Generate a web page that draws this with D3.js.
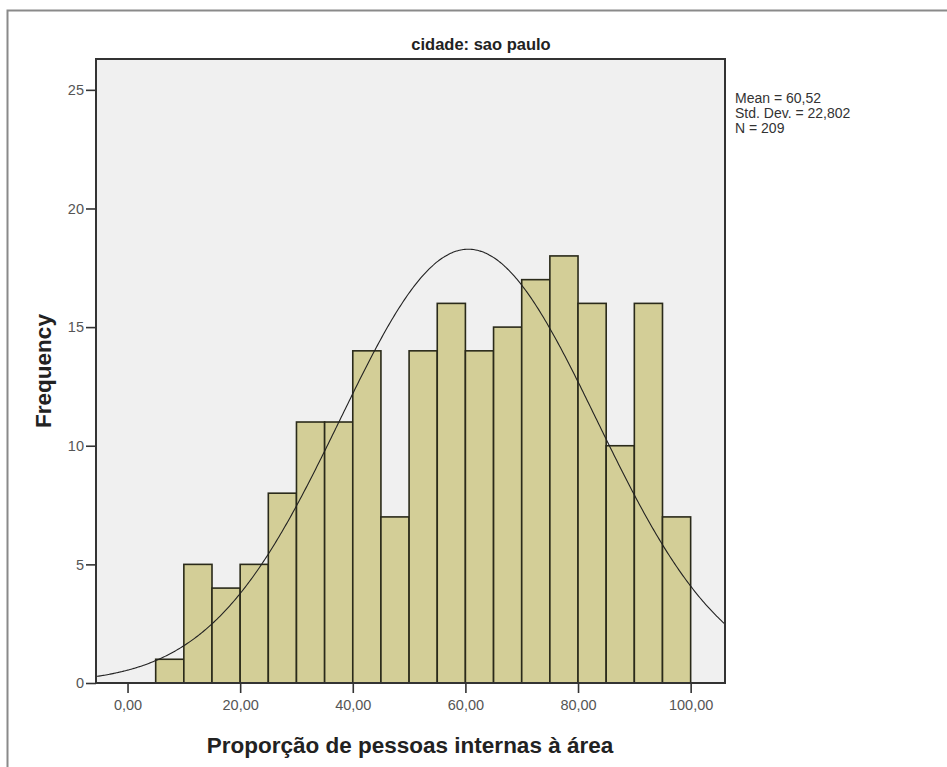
<!DOCTYPE html>
<html>
<head>
<meta charset="utf-8">
<script src="https://cdn.jsdelivr.net/npm/d3@7"></script>
<style>
  body { margin: 0; background: #fff; }
  svg { display: block; font-family: "Liberation Sans", Arial, sans-serif; }
</style>
</head>
<body>
<svg id="chart" width="947" height="767"></svg>
<script>
// ---- data ----
const binStarts = [5, 10, 15, 20, 25, 30, 35, 40, 45, 50, 55, 60, 65, 70, 75, 80, 85, 90, 95];
const frequencies = [1, 5, 4, 5, 8, 11, 11, 14, 7, 14, 16, 14, 15, 17, 18, 16, 10, 16, 7];
const binWidth = 5;
const xTicks = [0, 20, 40, 60, 80, 100];
const xTickLabels = ["0,00", "20,00", "40,00", "60,00", "80,00", "100,00"];
const yTicks = [0, 5, 10, 15, 20, 25];
const statsLines = ["Mean = 60,52", "Std. Dev. = 22,802", "N = 209"];
const meanVal = 60.52, sdVal = 22.802, nVal = 209;
const titleText = "cidade: sao paulo";
const xLabel = "Proporção de pessoas internas à área";
const yLabel = "Frequency";

const svg = d3.select("#chart");

// outer frame
svg.append("path")
  .attr("d", "M7.5,767 V10.5 H947")
  .attr("fill", "none").attr("stroke", "#8a8a8a").attr("stroke-width", 2);

const L = 96, R = 725, T = 59, B = 683;
const x = d3.scaleLinear().domain([-5.6, 106.1]).range([L, R]);
const y = d3.scaleLinear().domain([0, 26.3]).range([B, T]);

// plot background
svg.append("rect").attr("x", L).attr("y", T).attr("width", R - L).attr("height", B - T)
  .attr("fill", "#f0f0f0");

// bars
svg.append("g").selectAll("rect").data(binStarts).join("rect")
  .attr("x", (d) => x(d))
  .attr("width", (d) => x(d + binWidth) - x(d))
  .attr("y", (d, i) => y(frequencies[i]))
  .attr("height", (d, i) => y(0) - y(frequencies[i]))
  .attr("fill", "#d3ce97")
  .attr("stroke", "#2a2a1a").attr("stroke-width", 1.6);

// normal curve
svg.append("clipPath").attr("id", "clip")
  .append("rect").attr("x", L).attr("y", T).attr("width", R - L).attr("height", B - T);
const scale = nVal * binWidth / (sdVal * Math.sqrt(2 * Math.PI));
const xs = d3.range(-5.6, 106.2, 0.25);
const line = d3.line()
  .x((d) => x(d))
  .y((d) => y(scale * Math.exp(-0.5 * Math.pow((d - meanVal) / sdVal, 2))))
  .curve(d3.curveBasis);
svg.append("path").datum(xs).attr("d", line)
  .attr("fill", "none").attr("stroke", "#222").attr("stroke-width", 1.1)
  .attr("clip-path", "url(#clip)");

// plot border
svg.append("rect").attr("x", L).attr("y", T).attr("width", R - L).attr("height", B - T)
  .attr("fill", "none").attr("stroke", "#333").attr("stroke-width", 2);

// x axis
const xAxis = d3.axisBottom(x).tickValues(xTicks)
  .tickFormat((d, i) => xTickLabels[i]).tickSize(10).tickSizeOuter(0).tickPadding(7);
const gx = svg.append("g").attr("transform", `translate(0,${B})`).call(xAxis);
gx.select(".domain").remove();
gx.selectAll(".tick line").attr("stroke", "#333").attr("stroke-width", 1.6);
gx.selectAll(".tick text").attr("fill", "#555").style("font-size", "14.5px")
  .style("font-family", "Liberation Sans, Arial, sans-serif");

// y axis
const yAxis = d3.axisLeft(y).tickValues(yTicks).tickSize(10).tickSizeOuter(0).tickPadding(2);
const gy = svg.append("g").attr("transform", `translate(${L},0)`).call(yAxis);
gy.select(".domain").remove();
gy.selectAll(".tick line").attr("stroke", "#333").attr("stroke-width", 1.6);
gy.selectAll(".tick text").attr("fill", "#555").style("font-size", "14.5px")
  .style("font-family", "Liberation Sans, Arial, sans-serif");

// title
svg.append("text").attr("x", 481).attr("y", 50).attr("text-anchor", "middle")
  .style("font-size", "16.5px").style("font-weight", "bold").attr("fill", "#222")
  .text(titleText);

// axis labels
svg.append("text").attr("x", 410).attr("y", 753).attr("text-anchor", "middle")
  .style("font-size", "22.5px").style("font-weight", "bold").attr("fill", "#222")
  .text(xLabel);
svg.append("text").attr("transform", "translate(51,371) rotate(-90)").attr("text-anchor", "middle")
  .style("font-size", "22.5px").style("font-weight", "bold").attr("fill", "#222")
  .text(yLabel);

// stats
svg.append("g").selectAll("text").data(statsLines).join("text")
  .attr("x", 735).attr("y", (d, i) => 103 + i * 15)
  .style("font-size", "14px").attr("fill", "#333")
  .text((d) => d);
</script>
</body>
</html>
